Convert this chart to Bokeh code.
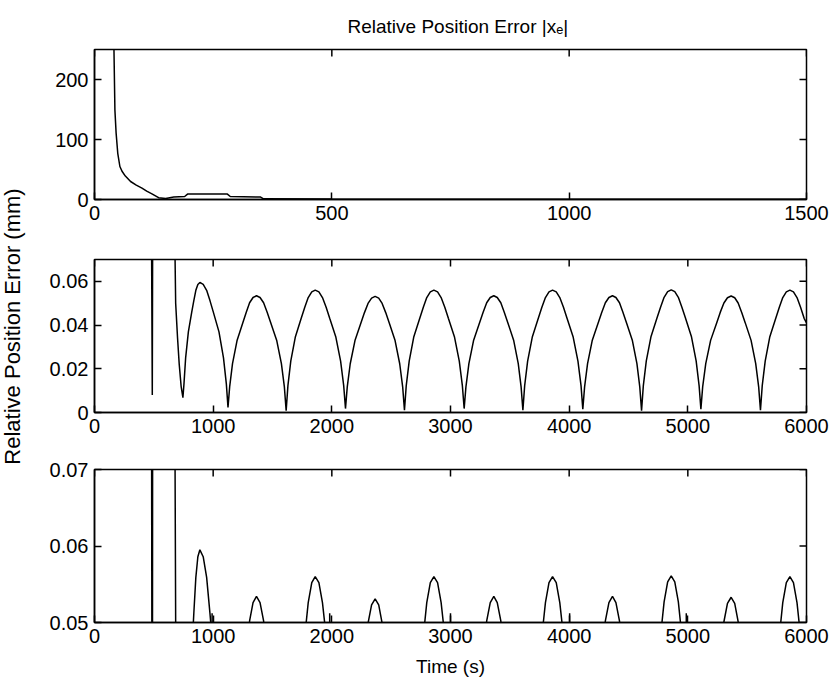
import math
from bokeh.plotting import figure
from bokeh.layouts import row, column
from bokeh.models import Range1d, FixedTicker, Label
from bokeh.embed import file_html
from bokeh.resources import INLINE

# ---------------- data ----------------
# Panel 1: initial transient, time 0..1500 s
t_top = [40.5, 41, 43, 45.5, 49, 53.5, 58, 65, 76, 88, 100, 110, 121, 135,
         150, 167, 190, 196, 280, 286, 350, 356, 500, 1000, 1500]
err_top = [400, 250, 149, 111, 77, 55, 47, 39, 30, 24, 19, 14, 9.5, 3,
           1.5, 4, 5, 9, 9, 5, 4, 1.2, 0.8, 0.5, 0.4]

# Panels 2 and 3: steady state, time 0..6000 s
t_ss = [0, 470, 487, 495, 660, 679, 684, 700, 714, 730, 745,
        754, 768, 791, 819, 837, 854, 871, 888,
        916, 945, 973, 1002, 1049, 1087, 1111, 1125,
        1139, 1163, 1202, 1250, 1279, 1307, 1336, 1365,
        1395, 1425, 1455, 1485, 1535, 1575, 1600, 1615,
        1630, 1654, 1693, 1742, 1772, 1801, 1831, 1860,
        1891, 1921, 1952, 1982, 2033, 2074, 2100, 2115,
        2130, 2155, 2195, 2245, 2275, 2305, 2335, 2365,
        2395, 2424, 2454, 2484, 2533, 2572, 2597, 2612,
        2627, 2652, 2691, 2741, 2771, 2800, 2830, 2860,
        2891, 2921, 2952, 2982, 3033, 3074, 3100, 3115,
        3130, 3155, 3195, 3245, 3275, 3305, 3335, 3365,
        3394, 3424, 3453, 3483, 3532, 3571, 3595, 3610,
        3625, 3650, 3690, 3740, 3770, 3800, 3830, 3860,
        3891, 3921, 3952, 3982, 4033, 4074, 4100, 4115,
        4130, 4155, 4195, 4245, 4275, 4305, 4335, 4365,
        4394, 4424, 4453, 4483, 4532, 4571, 4595, 4610,
        4625, 4650, 4690, 4740, 4770, 4800, 4830, 4860,
        4890, 4920, 4950, 4980, 5030, 5070, 5095, 5110,
        5125, 5151, 5192, 5243, 5273, 5304, 5334, 5365,
        5395, 5424, 5454, 5484, 5533, 5572, 5597, 5612,
        5627, 5652, 5691, 5741, 5771, 5800, 5830, 5860,
        5890, 5920, 5950, 5980, 6000]
err_ss = [0.30, 0.20, 0.008, 0.20, 0.15, 0.07, 0.05, 0.034, 0.022, 0.012, 0.0068,
          0.0131, 0.025, 0.0369, 0.0458, 0.0512, 0.0559, 0.0586, 0.0595,
          0.0586, 0.0559, 0.0512, 0.0458, 0.0369, 0.025, 0.0131, 0.0023,
          0.0117, 0.0224, 0.0331, 0.0411, 0.0459, 0.0502, 0.0526, 0.0534,
          0.0526, 0.0502, 0.0459, 0.0411, 0.0331, 0.0224, 0.0117, 0.0008,
          0.0123, 0.0235, 0.0347, 0.0431, 0.0482, 0.0526, 0.0552, 0.0560,
          0.0552, 0.0526, 0.0482, 0.0431, 0.0347, 0.0235, 0.0123, 0.0018,
          0.0117, 0.0223, 0.0329, 0.0409, 0.0457, 0.0499, 0.0523, 0.0531,
          0.0523, 0.0499, 0.0457, 0.0409, 0.0329, 0.0223, 0.0117, 0.0010,
          0.0123, 0.0235, 0.0347, 0.0431, 0.0482, 0.0526, 0.0552, 0.0560,
          0.0552, 0.0526, 0.0482, 0.0431, 0.0347, 0.0235, 0.0123, 0.0018,
          0.0117, 0.0224, 0.0331, 0.0411, 0.0459, 0.0502, 0.0526, 0.0534,
          0.0526, 0.0502, 0.0459, 0.0411, 0.0331, 0.0224, 0.0117, 0.0010,
          0.0123, 0.0235, 0.0347, 0.0431, 0.0482, 0.0526, 0.0552, 0.0560,
          0.0552, 0.0526, 0.0482, 0.0431, 0.0347, 0.0235, 0.0123, 0.0015,
          0.0117, 0.0224, 0.0331, 0.0411, 0.0459, 0.0502, 0.0526, 0.0534,
          0.0526, 0.0502, 0.0459, 0.0411, 0.0331, 0.0224, 0.0117, 0.0008,
          0.0123, 0.0236, 0.0348, 0.0432, 0.0482, 0.0527, 0.0553, 0.0561,
          0.0553, 0.0527, 0.0482, 0.0432, 0.0348, 0.0236, 0.0123, 0.0015,
          0.0117, 0.0224, 0.0330, 0.0410, 0.0458, 0.0501, 0.0525, 0.0533,
          0.0525, 0.0501, 0.0458, 0.0410, 0.0330, 0.0224, 0.0117, 0.0010,
          0.0123, 0.0235, 0.0347, 0.0431, 0.0482, 0.0526, 0.0552, 0.0560,
          0.0552, 0.0526, 0.0482, 0.0431, 0.0410]

# short glitches visible only in the zoomed bottom panel
blip_t = [991, 1982, 3000, 4004, 4987]
blip_base = [0.048, 0.043, 0.041, 0.040, 0.043]
blip_top = [0.0512, 0.0512, 0.0512, 0.0512, 0.0512]

# ticks / labels
x1_ticks = [0, 500, 1000, 1500]
x1_labels = ["0", "500", "1000", "1500"]
y1_ticks = [0, 100, 200]
y1_labels = ["0", "100", "200"]
x2_ticks = [0, 1000, 2000, 3000, 4000, 5000, 6000]
x2_labels = ["0", "1000", "2000", "3000", "4000", "5000", "6000"]
y2_ticks = [0, 0.02, 0.04, 0.06]
y2_labels = ["0", "0.02", "0.04", "0.06"]
y3_ticks = [0.05, 0.06, 0.07]
y3_labels = ["0.05", "0.06", "0.07"]

title_text = "Relative Position Error  |xₑ|"
ylabel_text = "Relative Position Error (mm)"
xlabel_text = "Time (s)"

FONT = "Liberation Sans"


def style_axis(ax, ticks, labels):
    ax.ticker = FixedTicker(ticks=ticks)
    ax.major_label_overrides = {t: l for t, l in zip(ticks, labels)}
    ax.major_tick_in = 7
    ax.major_tick_out = 0
    ax.minor_tick_line_color = None
    ax.major_tick_line_color = "black"
    ax.major_tick_line_width = 1.5
    ax.axis_line_color = "black"
    ax.axis_line_width = 1.5
    ax.major_label_text_font = FONT
    ax.major_label_text_font_size = "20px"
    ax.major_label_text_color = "black"
    ax.major_label_standoff = 6


def make_panel(height, top, bottom, xr, yr, xt, xl, yt, yl):
    p = figure(width=801, height=height, x_range=Range1d(*xr), y_range=Range1d(*yr),
               output_backend="svg", toolbar_location=None,
               min_border_left=64, min_border_right=25,
               min_border_top=top, min_border_bottom=bottom)
    p.grid.visible = False
    p.outline_line_color = "black"
    p.outline_line_width = 1.5
    p.background_fill_color = "white"
    p.border_fill_color = "white"
    style_axis(p.xaxis[0], xt, xl)
    style_axis(p.yaxis[0], yt, yl)
    # mirrored inward ticks on the top and right edges (half of each dash is clipped)
    p.scatter(x=xt, y=[yr[1]] * len(xt), marker="dash", size=14, angle=math.pi / 2,
              line_color="black", line_width=1.5)
    p.scatter(x=[xr[1]] * len(yt), y=yt, marker="dash", size=14, angle=0,
              line_color="black", line_width=1.5)
    return p


f1 = make_panel(235, 49, 36, (0, 1500), (0, 250), x1_ticks, x1_labels, y1_ticks, y1_labels)
f1.line(t_top, err_top, line_color="black", line_width=1.5)
f1.title.text = title_text
f1.title.align = "left"
f1.title.offset = 253
f1.title.standoff = 25
f1.title.text_line_height = 1.0
f1.title.text_font = FONT
f1.title.text_font_style = "normal"
f1.title.text_font_size = "19px"
f1.title.text_color = "black"

f2 = make_panel(215, 24, 38, (0, 6000), (0, 0.07), x2_ticks, x2_labels, y2_ticks, y2_labels)
f2.line(t_ss, err_ss, line_color="black", line_width=1.5)

f3 = make_panel(231, 19, 59, (0, 6000), (0.05, 0.07), x2_ticks, x2_labels, y3_ticks, y3_labels)
f3.line(t_ss, err_ss, line_color="black", line_width=1.5)
f3.segment(x0=blip_t, y0=blip_base, x1=blip_t, y1=blip_top, line_color="black", line_width=1.5)
f3.xaxis[0].axis_label = xlabel_text
f3.xaxis[0].axis_label_standoff = 10
f3.xaxis[0].axis_label_text_line_height = 0.9
f3.xaxis[0].axis_label_text_font = FONT
f3.xaxis[0].axis_label_text_font_style = "normal"
f3.xaxis[0].axis_label_text_font_size = "19px"
f3.xaxis[0].axis_label_text_color = "black"

lab = figure(width=30, height=681, x_range=Range1d(0, 30), y_range=Range1d(0, 681),
             output_backend="svg", toolbar_location=None, min_border=0,
             x_axis_location=None, y_axis_location=None)
lab.grid.visible = False
lab.outline_line_color = None
lab.add_layout(Label(x=12, y=355, text=ylabel_text, angle=90, angle_units="deg",
                     text_align="center", text_baseline="middle",
                     text_font=FONT, text_font_size="22px", text_color="black"))

layout = row(lab, column(f1, f2, f3))

open("out.html", "w").write(file_html(layout, INLINE))
